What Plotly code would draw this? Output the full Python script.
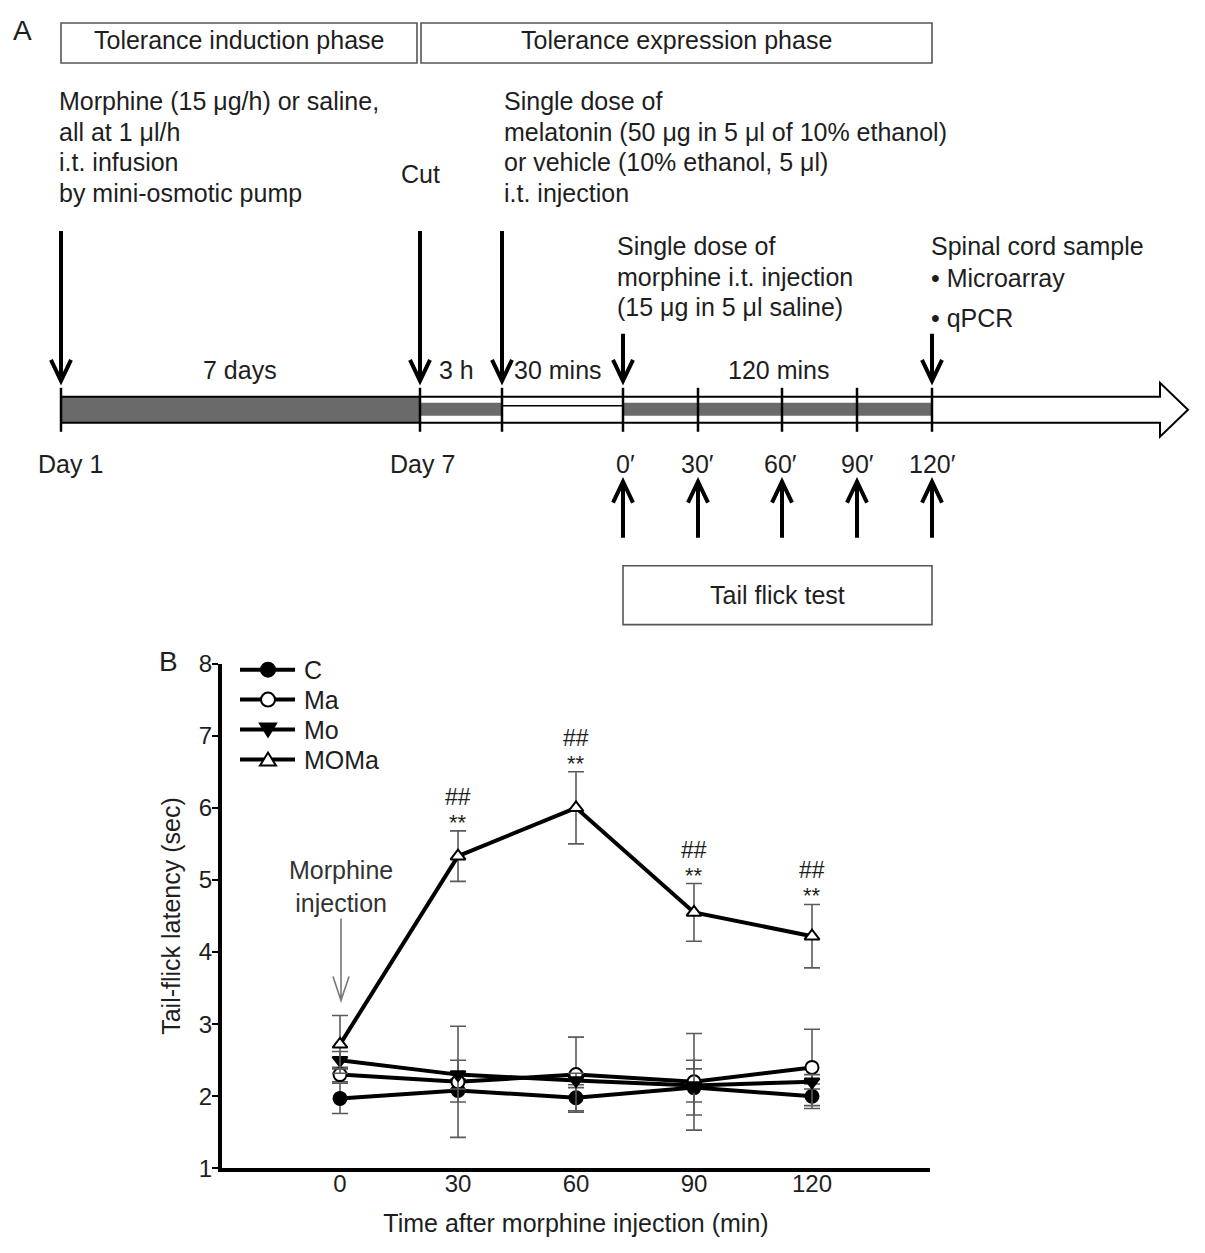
import plotly.graph_objects as go

# ---------------- data (panel B) ----------------
times = [0, 30, 60, 90, 120]
c_mean = [1.97, 2.08, 1.98, 2.12, 2.00]
c_err = [0.21, 0.16, 0.18, 0.38, 0.17]
ma_mean = [2.30, 2.20, 2.30, 2.20, 2.40]
ma_err = [0.10, 0.77, 0.52, 0.67, 0.53]
mo_mean = [2.50, 2.30, 2.22, 2.15, 2.20]
mo_err = [0.12, 0.20, 0.10, 0.23, 0.10]
moma_mean = [2.72, 5.33, 6.00, 4.55, 4.22]
moma_err = [0.40, 0.35, 0.50, 0.40, 0.44]
series_names = ["C", "Ma", "Mo", "MOMa"]
sig_times = [30, 60, 90, 120]
sig_star = ["**", "**", "**", "**"]
sig_hash = ["##", "##", "##", "##"]
x_ticks = [0, 30, 60, 90, 120]
y_ticks = [1, 2, 3, 4, 5, 6, 7, 8]

# ---------------- text (panel A) ----------------
phase_labels = ["Tolerance induction phase", "Tolerance expression phase"]
block1 = ["Morphine (15 \u03bcg/h) or saline,", "all at 1 \u03bcl/h", "i.t. infusion", "by mini-osmotic pump"]
block2 = ["Single dose of", "melatonin (50 \u03bcg in 5 \u03bcl of 10% ethanol)", "or vehicle (10% ethanol, 5 \u03bcl)", "i.t. injection"]
block3 = ["Single dose of", "morphine i.t. injection", "(15 \u03bcg in 5 \u03bcl saline)"]
block4 = ["Spinal cord sample", "\u2022 Microarray", "\u2022 qPCR"]
interval_labels = ["7 days", "3 h", "30 mins", "120 mins"]
timeline_labels = ["Day 1", "Day 7", "0\u2032", "30\u2032", "60\u2032", "90\u2032", "120\u2032"]

# page placement compensation (horizontal body margin, vertical offset/scale)
OFFX = 8
T_D, A_S = 21.0, 0.979
W, H = 1205 - 2 * OFFX, 1253
FONT = "Liberation Sans, Arial, sans-serif"
TXT = "#1e1e1e"
FS = 25


def X(p):
    return (p - OFFX) / W


def Y(p):
    f = max((p - T_D) / A_S, 1.0)
    return 1 - f / H


fig = go.Figure()

black = "#000000"
ebar_col = "#5a5a5a"
styles = [("circle", black), ("circle", "white"), ("triangle-down", black), ("triangle-up", "white")]


def add_series(name, mean, err, symbol, fill):
    fig.add_trace(go.Scatter(
        x=times, y=mean, name=name, mode="lines+markers", showlegend=False,
        line=dict(color=black, width=4),
        marker=dict(symbol=symbol, size=13, color=fill, line=dict(color=black, width=2)),
        error_y=dict(type="data", array=err, visible=True, color=ebar_col, thickness=1.6, width=8),
    ))


for name, mean, err, (sym, fill) in zip(series_names, [c_mean, ma_mean, mo_mean, moma_mean],
                                          [c_err, ma_err, mo_err, moma_err], styles):
    add_series(name, mean, err, sym, fill)

annotations = []
shapes = []

# custom legend (drawn as decoration)
for k, (name, (sym, fill)) in enumerate(zip(series_names, styles)):
    yy = 669 + 30 * k
    shapes.append(dict(type="line", xref="paper", yref="paper", x0=X(240), x1=X(295), y0=Y(yy), y1=Y(yy),
                       line=dict(color=black, width=4)))
    if sym == "circle":
        shapes.append(dict(type="circle", xref="paper", yref="paper", x0=X(261), x1=X(275),
                           y0=Y(yy - 7), y1=Y(yy + 7), line=dict(color=black, width=2), fillcolor=fill))
    elif sym == "triangle-down":
        shapes.append(dict(type="path", xref="paper", yref="paper",
                           path=f"M {X(260)} {Y(yy-6)} L {X(276)} {Y(yy-6)} L {X(268)} {Y(yy+7)} Z",
                           line=dict(color=black, width=2), fillcolor=fill))
    else:
        shapes.append(dict(type="path", xref="paper", yref="paper",
                           path=f"M {X(260)} {Y(yy+6)} L {X(276)} {Y(yy+6)} L {X(268)} {Y(yy-7)} Z",
                           line=dict(color=black, width=2), fillcolor=fill))
    annotations.append(dict(x=X(302), y=Y(yy), xref="paper", yref="paper", text=name, showarrow=False,
                            xanchor="left", yanchor="middle", font=dict(family=FONT, size=FS, color=TXT)))

# significance marks from the MOMa series
for t, s, h in zip(sig_times, sig_star, sig_hash):
    i = times.index(t)
    top = moma_mean[i] + moma_err[i]
    annotations.append(dict(x=t, y=top, xref="x", yref="y", text=s, showarrow=False,
                            yanchor="bottom", yshift=-6, font=dict(family=FONT, size=22, color=TXT)))
    annotations.append(dict(x=t, y=top, xref="x", yref="y", text=h, showarrow=False,
                            yanchor="bottom", yshift=19, font=dict(family=FONT, size=23, color=TXT)))

# "Morphine injection" label + thin gray arrow
annotations.append(dict(x=X(341), y=Y(886), xref="paper", yref="paper", text="Morphine<br>injection",
                        showarrow=False, xanchor="center", yanchor="middle", align="center",
                        font=dict(family=FONT, size=FS, color="#333333")))
shapes.append(dict(type="path", xref="paper", yref="paper",
                   path=f"M {X(341)} {Y(918)} L {X(341)} {Y(1000)} M {X(333)} {Y(976)} L {X(341)} {Y(1000)} L {X(349)} {Y(976)}",
                   line=dict(color="#777777", width=1.6)))

# panel labels
annotations.append(dict(x=X(22), y=Y(30), xref="paper", yref="paper", text="A", showarrow=False,
                        xanchor="center", yanchor="middle", font=dict(family=FONT, size=28, color=TXT)))
annotations.append(dict(x=X(168), y=Y(661), xref="paper", yref="paper", text="B", showarrow=False,
                        xanchor="center", yanchor="middle", font=dict(family=FONT, size=28, color=TXT)))

# ---------------- panel A ----------------
box_line = dict(color="#555555", width=1.6)
for (x0, x1), lab in zip([(61, 417), (421, 932)], phase_labels):
    shapes.append(dict(type="rect", xref="paper", yref="paper", x0=X(x0), x1=X(x1), y0=Y(15), y1=Y(62),
                       line=box_line, fillcolor="white"))
    annotations.append(dict(x=X((x0 + x1) / 2), y=Y(39), xref="paper", yref="paper", text=lab,
                            showarrow=False, xanchor="center", yanchor="middle",
                            font=dict(family=FONT, size=FS, color=TXT)))

# tail flick box
shapes.append(dict(type="rect", xref="paper", yref="paper", x0=X(623), x1=X(932), y0=Y(565), y1=Y(624),
                   line=box_line, fillcolor="white"))
annotations.append(dict(x=X(777), y=Y(594), xref="paper", yref="paper", text="Tail flick test",
                        showarrow=False, xanchor="center", yanchor="middle",
                        font=dict(family=FONT, size=FS, color=TXT)))


def text_block(lines, x, ys):
    for ln, yy in zip(lines, ys):
        annotations.append(dict(x=X(x), y=Y(yy), xref="paper", yref="paper", text=ln, showarrow=False,
                                xanchor="left", yanchor="middle", font=dict(family=FONT, size=FS, color=TXT)))


text_block(block1, 57, [100, 131, 161, 192])
text_block(block2, 502, [100, 131, 161, 192])
text_block(block3, 615, [245, 276, 306])
text_block(block4, 929, [245, 277, 317])
annotations.append(dict(x=X(420), y=Y(173), xref="paper", yref="paper", text="Cut", showarrow=False,
                        xanchor="center", yanchor="middle", font=dict(family=FONT, size=FS, color=TXT)))

for lab, xc in zip(interval_labels, [240, 456, 558, 778]):
    annotations.append(dict(x=X(xc), y=Y(369), xref="paper", yref="paper", text=lab, showarrow=False,
                            xanchor="center", yanchor="middle", font=dict(family=FONT, size=FS, color=TXT)))

for lab, xc in zip(timeline_labels, [70, 422, 625, 697, 780, 857, 932]):
    annotations.append(dict(x=X(xc), y=Y(463), xref="paper", yref="paper", text=lab, showarrow=False,
                            xanchor="center", yanchor="middle", font=dict(family=FONT, size=FS, color=TXT)))

# timeline bar
gray = "#6a6a6a"
shapes.append(dict(type="path", xref="paper", yref="paper",
                   path=(f"M {X(420)} {Y(396)} L {X(1160)} {Y(396)} L {X(1160)} {Y(382)} L {X(1188)} {Y(409)} "
                         f"L {X(1160)} {Y(436)} L {X(1160)} {Y(422)} L {X(420)} {Y(422)} Z"),
                   line=dict(color=black, width=2), fillcolor="white"))
shapes.append(dict(type="rect", xref="paper", yref="paper", x0=X(61), x1=X(420), y0=Y(396), y1=Y(422),
                   line=dict(color=black, width=2), fillcolor=gray))
for x0, x1 in [(420, 502), (623, 932)]:
    shapes.append(dict(type="rect", xref="paper", yref="paper", x0=X(x0), x1=X(x1), y0=Y(402), y1=Y(415),
                       line=dict(width=0), fillcolor=gray))
shapes.append(dict(type="line", xref="paper", yref="paper", x0=X(502), x1=X(623), y0=Y(405), y1=Y(405),
                   line=dict(color=black, width=1.6)))
for xv in [61, 420, 502, 623, 698, 782, 857, 932]:
    shapes.append(dict(type="line", xref="paper", yref="paper", x0=X(xv), x1=X(xv), y0=Y(387), y1=Y(431),
                       line=dict(color=black, width=2.5)))


def arrow_down(x, y0, y1):
    shapes.append(dict(type="path", xref="paper", yref="paper",
                       path=f"M {X(x)} {Y(y0)} L {X(x)} {Y(y1)} M {X(x-10)} {Y(y1-21)} L {X(x)} {Y(y1)} L {X(x+10)} {Y(y1-21)}",
                       line=dict(color=black, width=4)))


def arrow_up(x, y0, y1):
    shapes.append(dict(type="path", xref="paper", yref="paper",
                       path=f"M {X(x)} {Y(y0)} L {X(x)} {Y(y1)} M {X(x-10)} {Y(y1+21)} L {X(x)} {Y(y1)} L {X(x+10)} {Y(y1+21)}",
                       line=dict(color=black, width=4)))


for xv in [61, 420, 502]:
    arrow_down(xv, 230, 380)
for xv in [623, 932]:
    arrow_down(xv, 333, 380)
for xv in [623, 698, 782, 857, 932]:
    arrow_up(xv, 537, 481)

fig.update_layout(
    width=W, height=H,
    margin=dict(l=0, r=0, t=0, b=0),
    paper_bgcolor="white", plot_bgcolor="white",
    font=dict(family=FONT, color=TXT),
    showlegend=False,
    xaxis=dict(domain=[X(222), X(930)], range=[-30, 150], tickvals=x_ticks, ticks="",
               showgrid=False, zeroline=False, showline=True, linecolor=black, linewidth=4,
               tickfont=dict(family=FONT, size=24, color=TXT), ticklabelstandoff=-9,
               title=dict(text="Time after morphine injection (min)", font=dict(family=FONT, size=FS, color=TXT),
                          standoff=19)),
    yaxis=dict(domain=[Y(1168), Y(663)], range=[1, 8], tickvals=y_ticks, ticks="outside", ticklen=6,
               tickwidth=2, tickcolor=black, ticklabelstandoff=-5,
               showgrid=False, zeroline=False, showline=True, linecolor=black, linewidth=4,
               tickfont=dict(family=FONT, size=24, color=TXT),
               title=dict(text="Tail-flick latency (sec)", font=dict(family=FONT, size=FS, color=TXT),
                          standoff=12)),
    annotations=annotations,
    shapes=shapes,
)

fig.write_html("out.html")
